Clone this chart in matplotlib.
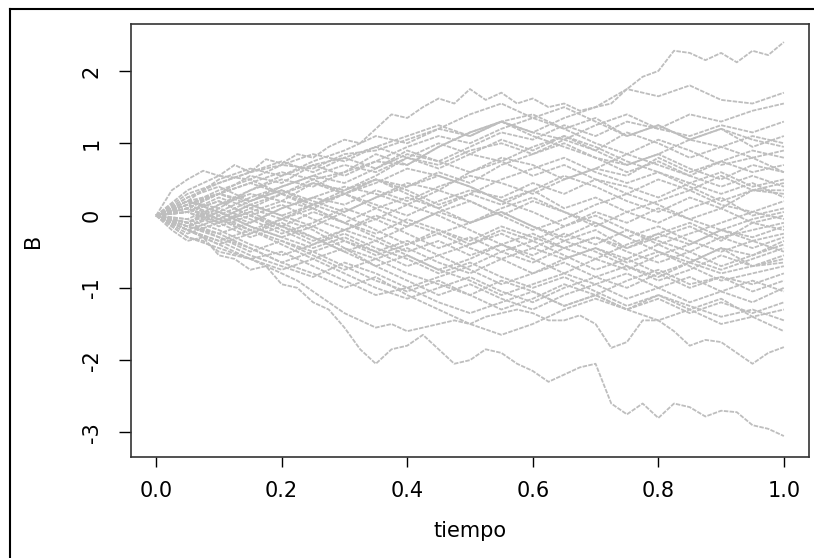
# Brownian motion paths, redrawn from the reference picture
import numpy as np
import matplotlib
matplotlib.use("Agg")
import matplotlib.pyplot as plt
from matplotlib.lines import Line2D

# time grids
t_coarse = [0.0, 0.05, 0.1, 0.15, 0.2, 0.25, 0.3, 0.35, 0.4, 0.45, 0.5,
            0.55, 0.6, 0.65, 0.7, 0.75, 0.8, 0.85, 0.9, 0.95, 1.0]
t_fine = [0.0, 0.025, 0.05, 0.075, 0.1, 0.125, 0.15, 0.175, 0.2, 0.225, 0.25,
          0.275, 0.3, 0.325, 0.35, 0.375, 0.4, 0.425, 0.45, 0.475, 0.5,
          0.525, 0.55, 0.575, 0.6, 0.625, 0.65, 0.675, 0.7, 0.725, 0.75,
          0.775, 0.8, 0.825, 0.85, 0.875, 0.9, 0.925, 0.95, 0.975, 1.0]

# outer paths, read at the fine grid
path_top = [0, 0.35, 0.5, 0.62, 0.55, 0.7, 0.6, 0.78, 0.72, 0.85, 0.8, 0.95, 1.05,
            1.0, 1.2, 1.4, 1.35, 1.5, 1.62, 1.55, 1.75, 1.6, 1.7, 1.55, 1.62, 1.5,
            1.55, 1.45, 1.5, 1.55, 1.75, 1.92, 2.0, 2.28, 2.25, 2.15, 2.25, 2.12,
            2.28, 2.22, 2.4]
path_bottom = [0, -0.2, -0.35, -0.3, -0.55, -0.6, -0.75, -0.7, -0.95, -1.0, -1.2,
               -1.3, -1.55, -1.85, -2.05, -1.85, -1.8, -1.65, -1.85, -2.05, -2.0,
               -1.85, -1.9, -2.05, -2.15, -2.3, -2.2, -2.1, -2.05, -2.6, -2.75,
               -2.6, -2.8, -2.6, -2.65, -2.78, -2.7, -2.72, -2.9, -2.95, -3.05]
path_low2 = [0, -0.15, -0.3, -0.35, -0.5, -0.55, -0.6, -0.7, -0.8, -0.9, -1.05,
             -1.2, -1.35, -1.45, -1.55, -1.5, -1.6, -1.55, -1.5, -1.45, -1.5,
             -1.4, -1.35, -1.3, -1.35, -1.45, -1.45, -1.38, -1.5, -1.83, -1.75,
             -1.45, -1.45, -1.6, -1.8, -1.72, -1.75, -1.9, -2.05, -1.9, -1.82]
fine_paths = [path_top, path_bottom, path_low2]

# remaining paths, read at the coarse grid
coarse_paths = [
    [0, 0.35, 0.55, 0.5, 0.7, 0.85, 0.75, 0.95, 1.1, 1.25, 1.1, 1.3, 1.15, 1.35, 1.5, 1.75, 1.65, 1.8, 1.6, 1.55, 1.7],
    [0, -0.2, -0.4, -0.6, -0.5, -0.7, -0.9, -1.1, -1.0, -1.2, -1.35, -1.2, -1.05, -1.25, -1.1, -1.3, -1.45, -1.3, -1.5, -1.4, -1.6],
    [0, -0.15, -0.25, -0.45, -0.65, -0.8, -1.0, -0.85, -1.1, -1.3, -1.5, -1.65, -1.5, -1.3, -1.15, -1.3, -1.1, -1.25, -1.4, -1.3, -1.45],
    [0, 0.3, 0.45, 0.6, 0.7, 0.65, 0.85, 0.9, 1.05, 1.2, 1.1, 1.3, 1.15, 1.05, 1.25, 1.4, 1.2, 1.1, 1.25, 1.15, 1.3],
    [0, 0.2, 0.1, 0.35, 0.5, 0.4, 0.6, 0.75, 0.7, 0.95, 1.15, 1.3, 1.4, 1.2, 1.35, 1.1, 1.25, 1.05, 1.2, 0.95, 1.1],
    [0, -0.1, 0.15, 0.3, 0.2, 0.45, 0.35, 0.55, 0.8, 0.7, 0.9, 1.0, 0.85, 1.05, 0.9, 1.15, 1.0, 0.8, 0.95, 1.1, 1.0],
    [0, 0.25, 0.4, 0.2, 0.35, 0.15, 0.3, 0.5, 0.4, 0.6, 0.45, 0.7, 0.85, 1.0, 0.8, 0.7, 0.85, 1.05, 0.95, 0.8, 0.9],
    [0, 0.15, 0.3, 0.55, 0.45, 0.7, 0.8, 0.65, 0.9, 0.75, 0.6, 0.8, 0.7, 0.5, 0.65, 0.85, 0.7, 0.55, 0.75, 0.9, 0.8],
    [0, -0.15, 0.05, -0.1, 0.1, 0.25, 0.15, 0.35, 0.2, 0.4, 0.55, 0.45, 0.3, 0.5, 0.65, 0.55, 0.8, 0.6, 0.75, 0.6, 0.7],
    [0, 0.2, 0.05, 0.25, 0.4, 0.55, 0.7, 0.6, 0.8, 1.0, 0.85, 0.75, 0.95, 1.1, 0.9, 0.7, 0.85, 0.65, 0.5, 0.7, 0.6],
    [0, 0.1, -0.1, 0.05, 0.2, 0.1, 0.3, 0.15, 0.0, 0.2, 0.35, 0.25, 0.45, 0.3, 0.5, 0.4, 0.25, 0.45, 0.6, 0.4, 0.5],
    [0, -0.2, -0.05, 0.15, 0.0, -0.15, 0.05, 0.25, 0.45, 0.35, 0.6, 0.75, 0.55, 0.7, 0.5, 0.3, 0.5, 0.35, 0.55, 0.35, 0.45],
    [0, 0.15, 0.35, 0.5, 0.3, 0.5, 0.6, 0.85, 0.7, 0.95, 1.15, 1.3, 1.1, 0.95, 0.8, 0.6, 0.75, 0.55, 0.4, 0.55, 0.4],
    [0, 0.05, 0.2, 0.0, -0.15, 0.05, -0.1, 0.1, 0.25, 0.1, 0.3, 0.15, 0.35, 0.55, 0.4, 0.2, 0.05, 0.25, 0.1, 0.35, 0.3],
    [0, -0.1, -0.25, -0.1, 0.1, 0.25, 0.4, 0.3, 0.15, 0.35, 0.2, 0.0, 0.2, 0.05, -0.15, 0.05, 0.2, 0.35, 0.15, 0.05, 0.2],
    [0, 0.2, 0.3, 0.45, 0.6, 0.5, 0.3, 0.45, 0.65, 0.55, 0.4, 0.2, 0.35, 0.1, 0.25, 0.05, -0.1, 0.1, 0.25, 0.0, 0.1],
    [0, 0.1, -0.1, -0.3, -0.15, -0.35, -0.2, 0.0, -0.15, 0.05, 0.2, 0.0, -0.2, -0.05, 0.15, 0.3, 0.15, -0.05, 0.1, -0.1, 0.0],
    [0, -0.15, 0.0, 0.2, 0.35, 0.2, 0.05, 0.25, 0.4, 0.55, 0.4, 0.2, 0.05, -0.15, 0.0, -0.2, -0.4, -0.25, -0.1, 0.05, -0.05],
    [0, 0.15, 0.0, -0.2, -0.35, -0.5, -0.35, -0.55, -0.4, -0.2, -0.35, -0.15, -0.3, -0.45, -0.6, -0.4, -0.25, -0.4, -0.2, -0.3, -0.15],
    [0, 0.05, 0.25, 0.1, -0.05, 0.15, 0.3, 0.1, -0.1, -0.25, -0.1, 0.05, -0.15, -0.35, -0.2, -0.45, -0.3, -0.15, -0.35, -0.1, -0.2],
    [0, -0.2, -0.4, -0.25, -0.05, -0.2, -0.45, -0.6, -0.45, -0.65, -0.8, -0.6, -0.45, -0.25, -0.4, -0.2, -0.35, -0.5, -0.3, -0.45, -0.3],
    [0, 0.1, 0.3, 0.45, 0.3, 0.15, 0.35, 0.5, 0.3, 0.1, -0.1, 0.05, -0.15, -0.3, -0.1, -0.3, -0.5, -0.65, -0.45, -0.55, -0.35],
    [0, -0.1, 0.1, -0.05, -0.25, -0.1, 0.1, -0.05, 0.15, 0.0, -0.2, -0.4, -0.25, -0.45, -0.3, -0.5, -0.65, -0.5, -0.7, -0.55, -0.4],
    [0, 0.2, 0.05, -0.15, -0.3, -0.45, -0.3, -0.5, -0.7, -0.55, -0.75, -0.95, -0.8, -0.6, -0.45, -0.6, -0.4, -0.6, -0.75, -0.6, -0.45],
    [0, -0.05, -0.2, -0.4, -0.55, -0.4, -0.2, -0.35, -0.15, 0.05, -0.1, 0.1, 0.25, 0.05, -0.1, -0.3, -0.15, -0.35, -0.5, -0.35, -0.5],
    [0, 0.15, 0.3, 0.15, 0.0, 0.15, 0.0, -0.2, -0.4, -0.25, -0.45, -0.6, -0.8, -0.65, -0.85, -1.0, -0.8, -0.65, -0.8, -0.7, -0.55],
    [0, -0.25, -0.1, 0.05, -0.15, -0.3, -0.5, -0.35, -0.55, -0.75, -0.6, -0.4, -0.55, -0.35, -0.5, -0.7, -0.85, -0.65, -0.45, -0.7, -0.6],
    [0, 0.1, -0.05, 0.15, 0.3, 0.1, -0.1, -0.25, -0.05, -0.2, -0.4, -0.25, -0.45, -0.6, -0.45, -0.65, -0.5, -0.7, -0.9, -0.8, -0.7],
    [0, -0.15, -0.3, -0.5, -0.35, -0.55, -0.75, -0.6, -0.8, -0.95, -1.1, -0.9, -1.05, -1.25, -1.1, -0.9, -0.75, -0.95, -0.85, -0.95, -0.8],
    [0, 0.05, 0.2, 0.0, 0.15, -0.05, -0.2, -0.05, -0.25, -0.45, -0.3, -0.5, -0.35, -0.55, -0.75, -0.6, -0.8, -1.0, -0.85, -1.05, -0.9],
    [0, -0.2, -0.35, -0.2, -0.4, -0.6, -0.45, -0.7, -0.9, -1.1, -0.95, -1.15, -1.3, -1.1, -0.95, -1.15, -1.0, -1.2, -1.05, -1.2, -1.0],
    [0, 0.15, -0.05, -0.2, -0.05, 0.1, -0.1, -0.3, -0.5, -0.35, -0.55, -0.4, -0.6, -0.8, -0.95, -0.8, -1.0, -0.85, -1.05, -0.9, -1.05],
    [0, -0.1, -0.3, -0.45, -0.65, -0.5, -0.7, -0.9, -1.05, -0.9, -1.1, -1.3, -1.15, -0.95, -1.1, -1.3, -1.15, -1.35, -1.2, -1.35, -1.2],
    [0, 0.05, -0.15, 0.0, -0.2, -0.4, -0.25, -0.45, -0.6, -0.8, -0.65, -0.85, -1.0, -0.85, -1.05, -1.25, -1.1, -1.3, -1.15, -1.4, -1.3],
    [0, 0.25, 0.45, 0.6, 0.75, 0.6, 0.8, 0.95, 0.8, 0.65, 0.85, 1.05, 0.9, 1.1, 0.95, 0.75, 0.6, 0.45, 0.3, 0.45, 0.25],
    [0, -0.05, 0.15, 0.35, 0.55, 0.7, 0.55, 0.75, 0.95, 1.1, 1.0, 1.2, 1.35, 1.2, 1.0, 0.85, 1.05, 0.9, 0.7, 0.8, 0.6],
    [0, -0.2, -0.35, -0.55, -0.7, -0.85, -0.65, -0.8, -1.0, -0.85, -0.7, -0.5, -0.65, -0.45, -0.3, -0.45, -0.25, -0.1, -0.3, -0.2, -0.1],
    [0, 0.1, 0.3, 0.2, 0.4, 0.55, 0.45, 0.65, 0.85, 0.75, 0.95, 1.15, 1.05, 1.25, 1.1, 1.3, 1.2, 1.4, 1.3, 1.45, 1.55],
    [0, 0.2, 0.5, 0.65, 0.55, 0.75, 0.9, 1.1, 1.0, 1.2, 1.4, 1.55, 1.35, 1.5, 1.3, 1.1, 1.25, 1.05, 1.2, 1.05, 0.95],
    [0, 0.1, -0.05, -0.25, -0.1, -0.3, -0.5, -0.7, -0.55, -0.75, -0.9, -1.1, -0.95, -0.8, -0.6, -0.75, -0.55, -0.4, -0.2, -0.35, -0.25],
    [0, -0.1, 0.05, -0.15, -0.3, -0.15, -0.35, -0.5, -0.35, -0.55, -0.4, -0.2, -0.35, -0.15, 0.05, -0.1, 0.1, -0.05, -0.2, -0.05, 0.05],
    [0, -0.3, -0.45, -0.6, -0.75, -0.6, -0.8, -1.0, -1.15, -1.0, -0.85, -1.05, -1.2, -1.0, -0.85, -0.7, -0.9, -0.75, -0.55, -0.7, -0.65],
    [0, 0.05, -0.1, 0.1, 0.3, 0.45, 0.3, 0.5, 0.35, 0.15, 0.3, 0.5, 0.65, 0.8, 0.6, 0.45, 0.6, 0.4, 0.2, 0.35, 0.35],
]

x_ticks = [0.0, 0.2, 0.4, 0.6, 0.8, 1.0]
x_tick_labels = ["0.0", "0.2", "0.4", "0.6", "0.8", "1.0"]
y_ticks = [-3, -2, -1, 0, 1, 2]
y_tick_labels = ["-3", "-2", "-1", "0", "1", "2"]

line_color = "#bebebe"

fig = plt.figure(figsize=(8.14, 5.58), dpi=100)
ax = fig.add_axes([131 / 814, 101 / 558, 678 / 814, 433 / 558])

# broken line style to mimic the dotted look of the thin jagged paths
dash = (0, (2.5, 0.7))
for p in coarse_paths:
    ax.plot(t_coarse, p, color=line_color, lw=1.3, linestyle=dash)
for p in fine_paths:
    ax.plot(t_fine, p, color=line_color, lw=1.3, linestyle=dash)

ax.set_xlim(-0.04, 1.04)
ax.set_ylim(-3.34, 2.65)
ax.set_xticks(x_ticks)
ax.set_xticklabels(x_tick_labels)
ax.set_yticks(y_ticks)
ax.set_yticklabels(y_tick_labels, rotation=90, va="center")
ax.tick_params(axis="x", length=7.5, width=1, pad=10, labelsize=15)
ax.tick_params(axis="y", length=9, width=1, pad=12, labelsize=15)
for s in ax.spines.values():
    s.set_color("#333333")
    s.set_linewidth(1.2)

ax.set_xlabel("tiempo", fontsize=15, labelpad=14)
ax.set_ylabel("B", fontsize=15, labelpad=28)

# outer frame (left and top edges are visible in the picture)
fig.add_artist(Line2D([10 / 814, 10 / 814], [0, 1 - 9 / 558], color="black", lw=1.5))
fig.add_artist(Line2D([10 / 814, 1], [1 - 9 / 558, 1 - 9 / 558], color="black", lw=1.5))

fig.savefig("out.png", dpi=100)
